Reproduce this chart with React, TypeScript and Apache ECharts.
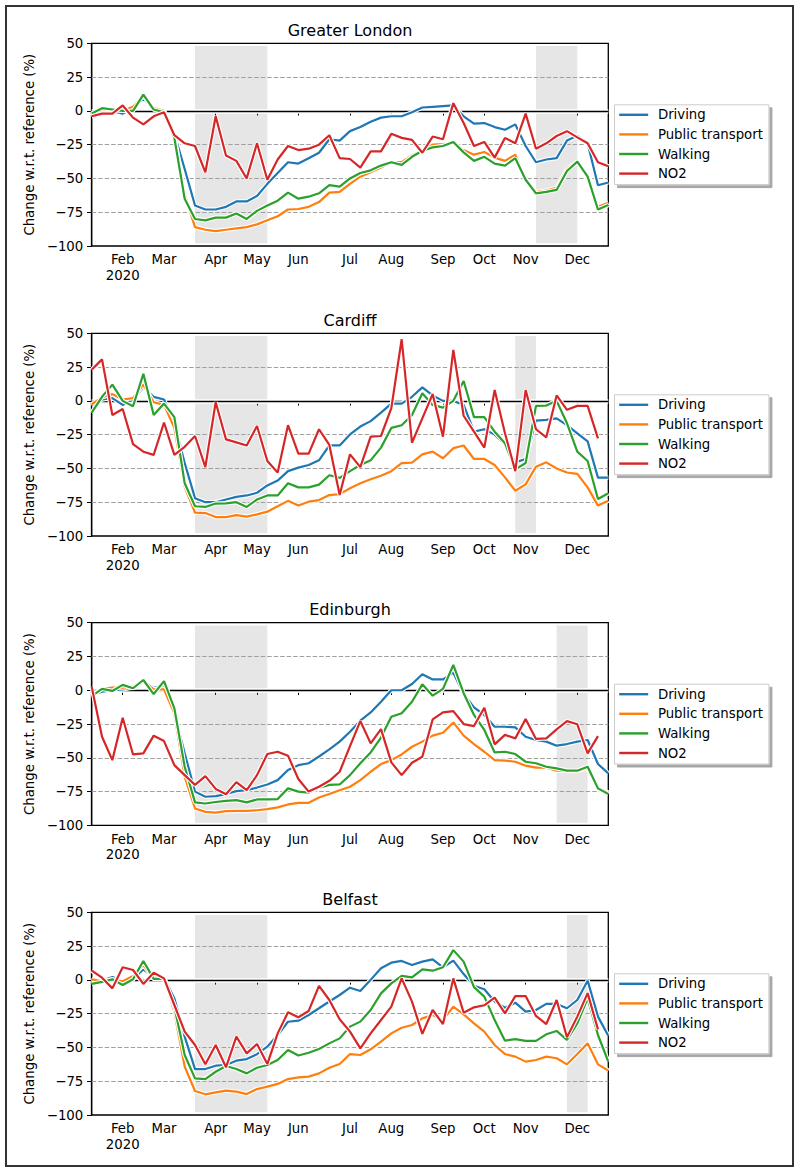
import React, { useEffect, useRef } from "react";
import * as echarts from "echarts";

// ---------- data ----------
const weeks = [
  "2020-01-13", "2020-01-20", "2020-01-27", "2020-02-03", "2020-02-10", "2020-02-17", "2020-02-24",
  "2020-03-02", "2020-03-09", "2020-03-16", "2020-03-23", "2020-03-30", "2020-04-06", "2020-04-13",
  "2020-04-20", "2020-04-27", "2020-05-04", "2020-05-11", "2020-05-18", "2020-05-25", "2020-06-01",
  "2020-06-08", "2020-06-15", "2020-06-22", "2020-06-29", "2020-07-06", "2020-07-13", "2020-07-20",
  "2020-07-27", "2020-08-03", "2020-08-10", "2020-08-17", "2020-08-24", "2020-08-31", "2020-09-07",
  "2020-09-14", "2020-09-21", "2020-09-28", "2020-10-05", "2020-10-12", "2020-10-19", "2020-10-26",
  "2020-11-02", "2020-11-09", "2020-11-16", "2020-11-23", "2020-11-30", "2020-12-07", "2020-12-14",
  "2020-12-21", "2020-12-28",
];

const tickWeeks = ["2020-01-13", "2020-02-03", "2020-03-02", "2020-04-06", "2020-05-04", "2020-06-01",
  "2020-07-06", "2020-08-03", "2020-09-07", "2020-10-05", "2020-11-02", "2020-12-07", "2020-12-28"];
const tickLabels = ["", "Feb\n2020", "Mar", "Apr", "May", "Jun", "Jul", "Aug", "Sep", "Oct", "Nov", "Dec", ""];

const yTicks = { min: -100, max: 50, step: 25 };
const gridValues = [25, -25, -50, -75];

const cities = ["Greater London", "Cardiff", "Edinburgh", "Belfast"];
const seriesNames = ["Driving", "Public transport", "Walking", "NO2"];
const seriesColors = ["#1f77b4", "#ff7f0e", "#2ca02c", "#d62728"];

// Greater London
const londonDriving = [-3, 1, 0, -2, 2, 9, 2, 0, -17, -43, -70, -73, -73, -71, -67, -67, -63, -54, -46, -38, -39, -35, -31, -21, -22, -15, -12, -8, -5, -4, -4, -1, 2.5, 3, 3.5, 4, -4, -9.5, -9, -12, -14, -10, -26, -38, -36, -35, -22, -18.5, -24, -55, -53];
const londonPublic = [-4, 1, 1, 0, 3, 11, 2, 0, -18, -62, -86, -88, -89, -88, -87, -86, -84, -81, -78, -73, -72.6, -71, -67.5, -60.5, -60, -54, -48.7, -45.5, -42, -38, -38, -33, -29, -25, -24.6, -24, -29, -32.4, -30.4, -34.6, -37, -32.4, -51, -60, -59, -57, -43, -37.6, -48, -71, -68];
const londonWalking = [-2, 2, 1, 0, 0, 12, 1, -1, -20, -65, -80, -81, -79, -79, -76, -80, -74, -70, -66.5, -60.5, -65, -63.5, -61, -55, -56, -50, -46, -44, -40.5, -38, -40, -34, -29.5, -27, -26, -23, -30.7, -37, -34, -39, -40.5, -35, -51, -61, -60, -58.5, -44.5, -37.6, -48.7, -73, -69.7];
const londonNO2 = [-4, -2, -2, 4, -5, -10, -4, -1, -18, -24, -26, -45.5, -4, -33, -37, -50, -24, -51, -36, -26, -29, -28, -25, -18, -35, -35.6, -42, -30, -30, -17, -20, -21.5, -31, -19, -21, 5.7, -9, -26, -23, -34.6, -20, -24, -2, -28, -24, -18.6, -15, -19.6, -24, -38, -41];

// Cardiff
const cardiffDriving = [-3.5, 1, 2, -3, 1, 10, 3, 1, -16.6, -46, -72, -75, -75, -73, -71, -70, -68, -62.6, -59, -52, -49.4, -47.5, -44, -33, -33, -24.8, -19, -15, -8.7, -2, -2, 3, 10, 4, 0, 0, -3, -22.8, -21, -25, -32, -45.5, -43, -14.6, -14, -13, -18, -24, -30, -56.8, -56.8];
const cardiffPublic = [-2.5, 2.6, 5, 1, 2, 12, -1, -3, -20, -63.5, -82.7, -83, -86, -86, -84.5, -85.7, -84, -82, -78, -74, -77.5, -74.6, -73.4, -69.7, -69, -64.7, -61, -58, -55.4, -52, -46, -45.7, -39.6, -37.6, -42.5, -35, -33, -43, -43, -47.5, -56.6, -66.5, -61.8, -48.7, -45.5, -50, -53, -54, -64, -77.5, -74];
const cardiffWalking = [-8.7, 3, 12, 0, -4, 20, -10.5, -2, -12, -61, -78, -78.5, -76, -75.8, -75, -78.5, -73, -70, -70, -61, -64, -64, -62, -55, -57, -52, -47.5, -44, -34.6, -20, -18, -10.4, 5.6, -3, -5, 0, 14.7, -12, -12, -22.8, -31.4, -50.7, -46, -3.7, -3.5, 0, -16.6, -37.6, -44.5, -72.6, -68.4];
const cardiffNO2 = [23, 30.7, -10.5, -6, -32, -37.6, -40, -16, -40, -34, -26, -49, -1, -28.5, -30.7, -33, -18.6, -44.5, -53, -18, -39, -39, -21, -32.6, -69.7, -39.6, -49, -26.5, -26, -5.4, 45.6, -31, -13, 5, -26.5, 37.7, -11, -22.8, -34.6, 8, -24, -52, 8, -21, -27, 4, -6.6, -3.7, -3.7, -27.7, null];

// Edinburgh
const edinburghDriving = [-3.5, -1, 0, 0.7, 2, 7, 2, 2, -17, -46.7, -75, -78.8, -78.3, -76.8, -74.6, -73.9, -72, -69.7, -66.5, -59, -55.4, -54, -49, -43.8, -38, -30.7, -22.5, -16.4, -8.5, 0, 0, 4.6, 11.8, 8, 8, 13, -2.7, -12.7, -18.3, -27, -27, -27.5, -34.4, -36.8, -38, -41, -39.8, -38, -36.8, -54.6, -61.5];
const edinburghPublic = [-3.5, 1, 2, 2, 2.6, 7, 0.7, 0.7, -17, -64, -87.5, -90, -90.5, -89.5, -89.3, -89.3, -88.8, -88, -86.7, -84.5, -83.3, -83.3, -79.4, -76.8, -74, -71.4, -66.5, -60.3, -54.6, -51.7, -47.5, -41.8, -38, -33.6, -31.4, -23.8, -33.6, -39.8, -45.5, -51.7, -52, -52.9, -55.8, -57.3, -57.3, -59.5, -59.8, -59.8, -57.8, -73, -75.6];
const edinburghWalking = [-4.3, 1, -0.5, 4, 1.5, 7.6, -2.8, 6.8, -13.4, -56.6, -83, -83.8, -82.7, -81.8, -81.3, -83, -80.8, -80.8, -80.5, -72.6, -75, -75.8, -72, -70, -69.7, -62.8, -54, -46, -35, -19.6, -17, -8.5, 4.4, -4, 1, 18.7, -2.2, -18.3, -29.4, -46, -45.5, -47.2, -52.9, -54, -56.6, -57.8, -59.5, -59.5, -56.6, -72.6, -76.8];
const edinburghNO2 = [2.6, -34.4, -51.7, -20.3, -47.5, -46.7, -33.6, -37.6, -55.4, -62.8, -70, -63.5, -73, -77, -68, -73.9, -62.8, -47.2, -45.5, -48.4, -65.7, -75, -71.4, -67, -60.3, -41.3, -22.8, -39.3, -28.7, -53.4, -62.8, -53.6, -49.2, -21.6, -16.4, -15.4, -25, -26.5, -12.9, -40, -33, -35.6, -21.3, -36, -35.6, -29, -22.8, -25.2, -46.7, -33.9, null];

// Belfast
const belfastDriving = [-0.5, -0.5, 2, -0.6, 0.4, 7.8, 1.9, 1.4, -13.7, -42, -66, -66, -63.5, -63, -59.8, -58.6, -55, -49.4, -40.8, -31, -30.2, -26, -21, -16, -11.2, -5.8, -8.2, 0, 8.6, 12.7, 14, 11, 13.5, 15.2, 9.3, 14.2, 4.3, -4.4, -7, -16, -20.6, -16.9, -23.5, -22.3, -17.8, -17.8, -21, -14.9, -0.6, -27.2, -41.3];
const belfastPublic = [0.4, -1, 0.4, -1, 2.9, 11, 0.7, 0.7, -23.5, -64.2, -82.2, -84.7, -83.2, -82, -82.7, -84.5, -80.8, -79, -77, -73.4, -72.1, -71.6, -69.2, -65, -62.3, -54.9, -55.6, -51.4, -45.7, -39.6, -35.4, -33.4, -28.5, -26, -29.7, -19.8, -25.5, -32.2, -38.3, -48.2, -54.9, -56.8, -60.5, -59.3, -56.8, -58, -62.5, -54.9, -47, -62.5, -67.2];
const belfastWalking = [-3, -1.5, 0.4, -3.8, 0.4, 14, 0.7, 0.7, -19.8, -55.6, -72.9, -73.4, -68, -63.7, -66, -69.2, -65, -63, -59.3, -51.9, -56, -53.9, -51.2, -47, -43.3, -34.6, -30.9, -22.3, -10, -2.6, 2.9, 1.9, 7.8, 6.8, 9.3, 22, 13.5, -5.4, -12.4, -29.7, -45, -43.8, -45.2, -45.2, -40.3, -37.8, -44.5, -32.2, -13.7, -40.8, -60.5];
const belfastNO2 = [6.8, 1.6, -6.3, 9.3, 7.3, -3, 5.3, 1.1, -18.6, -38.3, -48.2, -62.5, -48.2, -64.7, -42, -54.4, -47.5, -62.3, -39.6, -24, -27.7, -23, -4.5, -14.9, -29.2, -38.3, -50.7, -39.6, -29.7, -19.8, 1.1, -16.1, -40, -22.3, -32.7, 1.1, -24.3, -20.3, -18.8, -13.2, -24.8, -12, -12, -26.7, -32.7, -14.9, -42.5, -27.2, -9.8, -36.6, null];

// Lockdown periods (shaded)
const londonShades = [["2020-03-23", "2020-05-11"], ["2020-11-09", "2020-12-07"]];
const cardiffShades = [["2020-03-23", "2020-05-11"], ["2020-10-26", "2020-11-09"]];
const edinburghShades = [["2020-03-23", "2020-05-11"], ["2020-11-23", "2020-12-14"]];
const belfastShades = [["2020-03-23", "2020-05-11"], ["2020-11-30", "2020-12-14"]];
const shadeRange = [-98, 48];

const panelData = [
  [londonDriving, londonPublic, londonWalking, londonNO2],
  [cardiffDriving, cardiffPublic, cardiffWalking, cardiffNO2],
  [edinburghDriving, edinburghPublic, edinburghWalking, edinburghNO2],
  [belfastDriving, belfastPublic, belfastWalking, belfastNO2],
];
const panelShades = [londonShades, cardiffShades, edinburghShades, belfastShades];

// ---------- layout ----------
const FONT = "DejaVu Sans";
const PANEL_TOPS = [43.3, 333.3, 622.7, 912.3];
const PLOT_LEFT = 91.7;
const PLOT_WIDTH = 516.6;
const PLOT_HEIGHT = 202.7;

function fmtY(v: number) {
  return v < 0 ? "\u2212" + Math.abs(v) : String(v);
}

function buildOption() {
  const grid: any[] = [];
  const xAxis: any[] = [];
  const yAxis: any[] = [];
  const series: any[] = [];
  const legend: any[] = [];
  const graphic: any[] = [];

  PANEL_TOPS.forEach((top, k) => {
    grid.push({
      left: PLOT_LEFT, top, width: PLOT_WIDTH, height: PLOT_HEIGHT,
      show: true, borderColor: "#000", borderWidth: 1.3, backgroundColor: "transparent",
    });
    xAxis.push({
      type: "category", gridIndex: k, data: weeks, boundaryGap: false,
      axisLine: { show: true, lineStyle: { color: "#000", width: 1.3 } },
      axisTick: {
        show: true, length: 4.7, lineStyle: { color: "#000", width: 1 },
        interval: (_i: number, v: string) => tickWeeks.includes(v),
      },
      axisLabel: {
        interval: (_i: number, v: string) => tickWeeks.includes(v),
        formatter: (v: string) => { const i = tickWeeks.indexOf(v); return i >= 0 ? tickLabels[i] : ""; },
        color: "#000", fontSize: 13.3, fontFamily: FONT, margin: 6, lineHeight: 15.5,
      },
      splitLine: { show: false },
    });
    yAxis.push({
      type: "value", gridIndex: k, min: yTicks.min, max: yTicks.max, interval: yTicks.step,
      axisLine: { show: true, lineStyle: { color: "#000", width: 1.3 } },
      axisTick: { show: true, length: 4.7, lineStyle: { color: "#000", width: 1 } },
      axisLabel: { formatter: fmtY, color: "#000", fontSize: 13.3, fontFamily: FONT, margin: 8.4 },
      splitLine: { show: false },
      name: "Change w.r.t. reference (%)", nameLocation: "middle", nameGap: 47,
      nameTextStyle: { color: "#000", fontSize: 13.3, fontFamily: FONT },
    });

    // shaded lockdown periods
    series.push({
      type: "line", name: "_shade", xAxisIndex: k, yAxisIndex: k, data: [], silent: true, z: 1,
      markArea: {
        silent: true,
        itemStyle: { color: "rgba(128,128,128,0.2)" },
        data: panelShades[k].map((s) => [
          { xAxis: s[0], yAxis: shadeRange[0] },
          { xAxis: s[1], yAxis: shadeRange[1] },
        ]),
      },
    });
    // dashed grid lines
    series.push({
      type: "line", name: "_grid", xAxisIndex: k, yAxisIndex: k, data: [], silent: true, z: 2,
      markLine: {
        silent: true, symbol: ["none", "none"], label: { show: false },
        lineStyle: { color: "#a0a0a0", width: 1, type: [4.5, 2] },
        data: gridValues.map((v) => ({ yAxis: v })),
      },
    });
    // zero line with white halo
    series.push({
      type: "line", name: "_zeroHalo", xAxisIndex: k, yAxisIndex: k, data: [], silent: true, z: 2,
      markLine: {
        silent: true, symbol: ["none", "none"], label: { show: false },
        lineStyle: { color: "#fff", width: 4.6, type: "solid" },
        data: [{ yAxis: 0 }],
      },
    });
    series.push({
      type: "line", name: "_zero", xAxisIndex: k, yAxisIndex: k, data: [], silent: true, z: 2,
      markLine: {
        silent: true, symbol: ["none", "none"], label: { show: false },
        lineStyle: { color: "#000", width: 1.3, type: "solid" },
        data: [{ yAxis: 0 }],
      },
    });

    panelData[k].forEach((vals, j) => {
      series.push({
        type: "line", name: "_halo", xAxisIndex: k, yAxisIndex: k, data: vals,
        symbol: "none", silent: true, z: 10,
        lineStyle: { color: "#fff", width: 4.4 },
        emphasis: { disabled: true },
      });
      series.push({
        type: "line", name: seriesNames[j], xAxisIndex: k, yAxisIndex: k, data: vals,
        symbol: "none", z: 10,
        itemStyle: { color: seriesColors[j] },
        lineStyle: { color: seriesColors[j], width: 2.2 },
        emphasis: { disabled: true },
      });
    });

    legend.push({
      orient: "vertical", left: 614.5, top: top + 61.5,
      data: seriesNames, icon: "rect", itemWidth: 29, itemHeight: 2.4, itemGap: 6.6,
      selectedMode: false,
      textStyle: { color: "#000", fontSize: 13.3, fontFamily: FONT, padding: [0, 0, 0, 4.7] },
      padding: [3.5, 6, 4.5, 4.7],
      backgroundColor: "#fff", borderColor: "#cccccc", borderWidth: 1, borderRadius: 0,
      shadowColor: "rgba(0,0,0,0.35)", shadowBlur: 0, shadowOffsetX: 3, shadowOffsetY: 3,
    });

    graphic.push({
      type: "text", x: PLOT_LEFT + PLOT_WIDTH / 2, y: top - 21,
      style: { text: cities[k], fill: "#000", fontSize: 16, fontFamily: FONT, align: "center", verticalAlign: "top" },
    });
  });

  graphic.push({
    type: "rect", shape: { x: 6, y: 6, width: 787, height: 1160 },
    style: { fill: "none", stroke: "#333", lineWidth: 2 }, silent: true,
  });

  return {
    animation: false,
    backgroundColor: "#fff",
    textStyle: { fontFamily: FONT },
    grid, xAxis, yAxis, series, legend, graphic,
  };
}

export default function App() {
  const ref = useRef<HTMLDivElement>(null);
  useEffect(() => {
    if (!ref.current) return;
    const chart = echarts.init(ref.current, undefined, { renderer: "svg" });
    chart.setOption(buildOption() as any);
    return () => chart.dispose();
  }, []);
  return (
    <div
      ref={ref}
      style={{ position: "absolute", left: 0, top: 0, width: 800, height: 1173 }}
    />
  );
}
